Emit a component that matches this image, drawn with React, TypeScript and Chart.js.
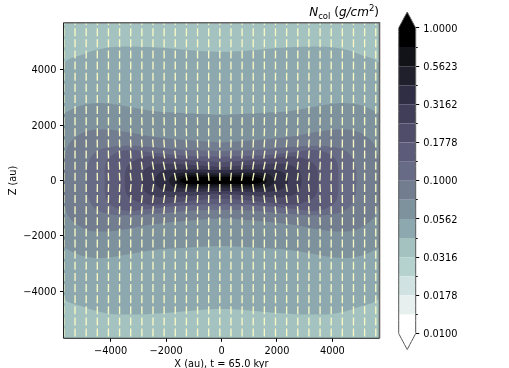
import React, { useEffect, useRef } from "react";
import { Chart, registerables } from "chart.js";

Chart.register(...registerables);

const FONT = "'DejaVu Sans'";
const TICK_SIZE = 9.8;

// Main panel axes
const X_TICKS = [-4000, -2000, 0, 2000, 4000];
const X_TICK_LABELS = ["\u22124000", "\u22122000", "0", "2000", "4000"];
const Z_TICKS = [-4000, -2000, 0, 2000, 4000];
const Z_TICK_LABELS = ["\u22124000", "\u22122000", "0", "2000", "4000"];

// Filled contour bands: one quadrant outline per level, as [|x|, |z|] in au
const BG_OUTLINE = [[0, 5900], [5900, 5900], [5900, 0]];
const LEVEL_042 = [[0, 4650], [800, 4680], [2000, 4790], [3300, 4850], [4200, 4790], [5000, 4560], [5700, 4200], [5850, 2000], [5900, 0]];
const LEVEL_056 = [[0, 2370], [1400, 2440], [2400, 2500], [3200, 2640], [4300, 2800], [5000, 2730], [5500, 2520], [5720, 2350], [5850, 1000], [5880, 0]];
const LEVEL_075 = [[0, 1370], [1400, 1470], [2600, 1600], [3400, 1750], [4150, 1840], [4870, 1780], [5480, 1360], [5650, 880], [5750, 0]];
const LEVEL_100 = [[0, 1060], [1400, 1110], [2600, 1220], [3430, 1260], [4150, 1190], [4570, 1000], [4800, 650], [4870, 0]];
const LEVEL_133 = [[0, 860], [1400, 900], [2600, 1020], [3300, 1100], [3790, 1000], [4150, 700], [4210, 0]];
const LEVEL_178 = [[0, 660], [1400, 760], [2590, 880], [3200, 700], [3430, 470], [3490, 0]];
const LEVEL_237 = [[0, 480], [1400, 580], [2350, 590], [2770, 400], [2890, 0]];
const LEVEL_316 = [[0, 380], [1760, 400], [2230, 280], [2410, 0]];
const LEVEL_420 = [[0, 250], [1100, 290], [1700, 230], [1900, 0]];
const LEVEL_560 = [[0, 170], [800, 200], [1450, 170], [1640, 0]];
const LEVEL_750 = [[0, 120], [800, 135], [1300, 110], [1510, 0]];

const CONTOURS = [BG_OUTLINE, LEVEL_042, LEVEL_056, LEVEL_075, LEVEL_100, LEVEL_133, LEVEL_178, LEVEL_237, LEVEL_316, LEVEL_420, LEVEL_560, LEVEL_750];
const CONTOUR_COLORS = ["#a3c2c0", "#8da8ae", "#7e929e", "#727d90", "#676b85", "#5c5b7a", "#504d6b", "#413e5a", "#302e44", "#20202d", "#121219", "#000000"];

// Field-line segments: sample grid (au) and tilt from vertical (degrees)
const VECTOR_X = [-5686, -5284, -4882, -4481, -4079, -3677, -3275, -2873, -2472, -2070, -1668, -1266, -864, -463, -61, 341, 743, 1145, 1546, 1948, 2350, 2752, 3154, 3556, 3957, 4359, 4761, 5163, 5565];
const VECTOR_Z = [5769, 5366, 4964, 4561, 4159, 3756, 3354, 2951, 2549, 2146, 1744, 1341, 939, 536, 134, -269, -671, -1074, -1476, -1879, -2281, -2684, -3086, -3489, -3891, -4294, -4696, -5099, -5501];
const TILT_Z0 = [0, 5, 8, 10, 12, 12, 9, 7, 6, 3, 2, 1];
const TILT_Z1 = [0, 3, 6, 8, 11, 11, 9, 7, 5, 3, 2, 1];
const TILT_Z2 = [0, 2, 3, 5, 7, 8, 7, 6, 4, 3, 2, 1];
const TILT_Z3 = [0, 1, 2, 3, 4, 5, 5, 4, 3, 2, 1, 1];
const TILT_Z4 = [0, 1, 1, 2, 2, 3, 3, 3, 2, 2, 1, 0];
const TILT_Z5 = [0, 0, 1, 1, 1, 2, 2, 2, 1, 1, 0, 0];
const TILT_TABLE = [TILT_Z0, TILT_Z1, TILT_Z2, TILT_Z3, TILT_Z4, TILT_Z5];

// Colour bar
const BAR_EDGES = [0.01, 0.01334, 0.01778, 0.02371, 0.03162, 0.04217, 0.05623, 0.07499, 0.1, 0.13335, 0.17783, 0.23714, 0.31623, 0.4217, 0.56234, 0.74989, 1];
const BAR_COLORS = ["#ffffff", "#e8f0ef", "#d1e2e2", "#b6d2cf", "#a3c2c0", "#8da8ae", "#7e929e", "#727d90", "#676b85", "#5c5b7a", "#504d6b", "#413e5a", "#302e44", "#20202d", "#121219", "#000000"];
const BAR_TICKS = [0.01, 0.01778, 0.03162, 0.05623, 0.1, 0.17783, 0.31623, 0.56234, 1];
const BAR_TICK_LABELS = ["0.0100", "0.0178", "0.0316", "0.0562", "0.1000", "0.1778", "0.3162", "0.5623", "1.0000"];
const BAR_MINOR_TICKS = [0.01334, 0.02371, 0.04217, 0.07499, 0.13335, 0.23714, 0.4217, 0.74989];
const BAR_MIN = 0.00786;
const BAR_MAX = 1.2723;

function closedOutline(q: number[][]) {
  const pts: { x: number; y: number }[] = [];
  q.forEach(([x, z]) => pts.push({ x, y: z }));
  [...q].reverse().slice(1).forEach(([x, z]) => pts.push({ x, y: -z }));
  q.slice(1).forEach(([x, z]) => pts.push({ x: -x, y: -z }));
  [...q].reverse().slice(1).forEach(([x, z]) => pts.push({ x: -x, y: z }));
  return pts;
}

function tiltAt(x: number, z: number) {
  const row = TILT_TABLE[Math.round(Math.abs(z) / 400)];
  if (!row) return 0;
  return row[Math.round(Math.abs(x) / 400)] || 0;
}

export default function App() {
  const mainRef = useRef<HTMLCanvasElement | null>(null);
  const barRef = useRef<HTMLCanvasElement | null>(null);

  useEffect(() => {
    const vectorPoints: { x: number; y: number }[] = [];
    const vectorRot: number[] = [];
    VECTOR_Z.forEach((z) =>
      VECTOR_X.forEach((x) => {
        vectorPoints.push({ x, y: z });
        vectorRot.push(90 + Math.sign(x) * Math.sign(z) * tiltAt(x, z));
      })
    );

    const contourSets = CONTOURS.map((q, i) => ({
      data: closedOutline(q),
      showLine: true,
      fill: "shape",
      tension: 0.35,
      capBezierPoints: false,
      borderWidth: 0,
      pointRadius: 0,
      backgroundColor: CONTOUR_COLORS[i],
      order: 100 - i,
    }));

    const framePlugin = {
      id: "frame",
      afterDatasetsDraw(c: any) {
        const { ctx, chartArea: a } = c;
        ctx.save();
        ctx.strokeStyle = "#666666";
        ctx.lineWidth = 1.6;
        ctx.beginPath();
        ctx.moveTo(a.left, a.top);
        ctx.lineTo(a.right, a.top);
        ctx.lineTo(a.right, a.bottom);
        ctx.stroke();
        ctx.strokeStyle = "#222222";
        ctx.lineWidth = 1;
        ctx.beginPath();
        ctx.moveTo(a.left, a.top);
        ctx.lineTo(a.left, a.bottom);
        ctx.lineTo(a.right, a.bottom);
        ctx.stroke();
        ctx.restore();
      },
    };

    const main = new Chart(mainRef.current as any, {
      type: "scatter",
      plugins: [framePlugin],
      data: {
        datasets: [
          {
            data: vectorPoints,
            showLine: false,
            clip: 0,
            pointStyle: "line",
            pointRadius: 4,
            pointRotation: vectorRot,
            pointBorderWidth: 1.35,
            pointBorderColor: "#f8f8c4",
            order: 0,
          },
          ...contourSets,
        ] as any,
      },
      options: {
        animation: false,
        responsive: false,
        events: [],
        layout: { autoPadding: false, padding: { top: 22.7, right: 129.5, left: 0, bottom: 0 } },
        plugins: { legend: { display: false }, tooltip: { enabled: false }, title: { display: false } },
        scales: {
          x: {
            type: "linear",
            min: -5700,
            max: 5700,
            afterBuildTicks: (s: any) => {
              s.ticks = X_TICKS.map((value) => ({ value }));
            },
            afterFit: (s: any) => {
              s.height = 29.7;
            },
            grid: { drawOnChartArea: false, tickLength: 3.5, tickColor: "#000" },
            border: { display: false },
            ticks: {
              autoSkip: false,
              maxRotation: 0,
              padding: 3.5,
              color: "#000",
              font: { family: FONT, size: TICK_SIZE },
              callback: (_v: any, i: number) => X_TICK_LABELS[i],
            },
            title: { display: true, text: "X (au), t = 65.0 kyr", color: "#000", font: { family: FONT, size: TICK_SIZE }, padding: { top: 0, bottom: -2 } },
          },
          y: {
            type: "linear",
            min: -5707,
            max: 5707,
            afterBuildTicks: (s: any) => {
              s.ticks = Z_TICKS.map((value) => ({ value }));
            },
            afterFit: (s: any) => {
              s.width = 63.5;
            },
            grid: { drawOnChartArea: false, tickLength: 3.5, tickColor: "#000" },
            border: { display: false },
            ticks: {
              autoSkip: false,
              padding: 3.5,
              labelOffset: 1,
              color: "#000",
              font: { family: FONT, size: TICK_SIZE },
              callback: (_v: any, i: number) => Z_TICK_LABELS[i],
            },
            title: { display: true, text: "Z (au)", color: "#000", font: { family: FONT, size: TICK_SIZE }, padding: { top: 8, bottom: 0 } },
          },
        },
      } as any,
    });

    const bandSets = BAR_COLORS.map((color, i) => ({
      data: [
        { x: 0, y: BAR_EDGES[i] },
        { x: 1, y: BAR_EDGES[i] },
        { x: 1, y: BAR_EDGES[i + 1] },
        { x: 0, y: BAR_EDGES[i + 1] },
        { x: 0, y: BAR_EDGES[i] },
      ],
      showLine: true,
      fill: "shape",
      tension: 0.00001,
      capBezierPoints: false,
      borderWidth: 0,
      pointRadius: 0,
      backgroundColor: color,
      order: 10,
    }));
    const topCap = [
      { x: 0, y: 1 },
      { x: 1, y: 1 },
      { x: 0.5, y: BAR_MAX },
      { x: 0, y: 1 },
    ];
    const outline = [
      { x: 0, y: 0.01 },
      { x: 0.5, y: BAR_MIN },
      { x: 1, y: 0.01 },
      { x: 1, y: 1 },
      { x: 0.5, y: BAR_MAX },
      { x: 0, y: 1 },
      { x: 0, y: 0.01 },
    ];

    const bar = new Chart(barRef.current as any, {
      type: "scatter",
      data: {
        datasets: [
          { data: outline, showLine: true, clip: false, tension: 0.00001, capBezierPoints: false, fill: false, borderColor: "#555555", borderWidth: 1, pointRadius: 0, order: 0 },
          { data: topCap, showLine: true, fill: "shape", tension: 0.00001, capBezierPoints: false, borderWidth: 0, pointRadius: 0, backgroundColor: "#000000", order: 5 },
          ...bandSets,
        ] as any,
      },
      options: {
        animation: false,
        responsive: false,
        events: [],
        layout: { autoPadding: false, padding: { top: 12, right: 0, left: 18.7, bottom: 18.5 } },
        plugins: { legend: { display: false }, tooltip: { enabled: false }, title: { display: false } },
        scales: {
          x: { type: "linear", min: 0, max: 1, display: false },
          y: {
            type: "logarithmic",
            position: "right",
            weight: 1,
            min: BAR_MIN,
            max: BAR_MAX,
            afterBuildTicks: (s: any) => {
              s.ticks = BAR_TICKS.map((value) => ({ value }));
            },
            afterFit: (s: any) => {
              s.width = 93.3;
            },
            grid: { drawOnChartArea: false, tickLength: 3.5, tickColor: "#000" },
            border: { display: false },
            ticks: {
              autoSkip: false,
              padding: 4,
              labelOffset: 1,
              color: "#000",
              font: { family: FONT, size: TICK_SIZE },
              callback: (_v: any, i: number) => BAR_TICK_LABELS[i],
            },
          },
          yMinor: {
            type: "logarithmic",
            position: "right",
            weight: 0,
            min: BAR_MIN,
            max: BAR_MAX,
            afterBuildTicks: (s: any) => {
              s.ticks = BAR_MINOR_TICKS.map((value) => ({ value }));
            },
            afterFit: (s: any) => {
              s.width = 0;
            },
            grid: { drawOnChartArea: false, tickLength: 2, tickColor: "#000" },
            border: { display: false },
            ticks: { display: false, autoSkip: false },
          },
        },
      } as any,
    });

    return () => {
      main.destroy();
      bar.destroy();
    };
  }, []);

  return (
    <div style={{ position: "absolute", left: 0, top: 0, width: 509, height: 368, overflow: "hidden", background: "#fff", filter: "blur(0.5px)" }}>
      <canvas ref={mainRef} width={509} height={368} style={{ position: "absolute", left: 0, top: 0, width: 509, height: 368 }} />
      <canvas ref={barRef} width={129} height={368} style={{ position: "absolute", left: 380, top: 0, width: 129, height: 368 }} />
      <div style={{ position: "absolute", right: 130, top: 4, fontFamily: FONT, fontSize: 12, lineHeight: "16px", whiteSpace: "nowrap", color: "#000" }}>
        <i>N</i>
        <sub style={{ fontSize: 8.5, lineHeight: 0 }}>col</sub> (<i>g/cm</i>
        <sup style={{ fontSize: 8.5, lineHeight: 0 }}>2</sup>)
      </div>
    </div>
  );
}
